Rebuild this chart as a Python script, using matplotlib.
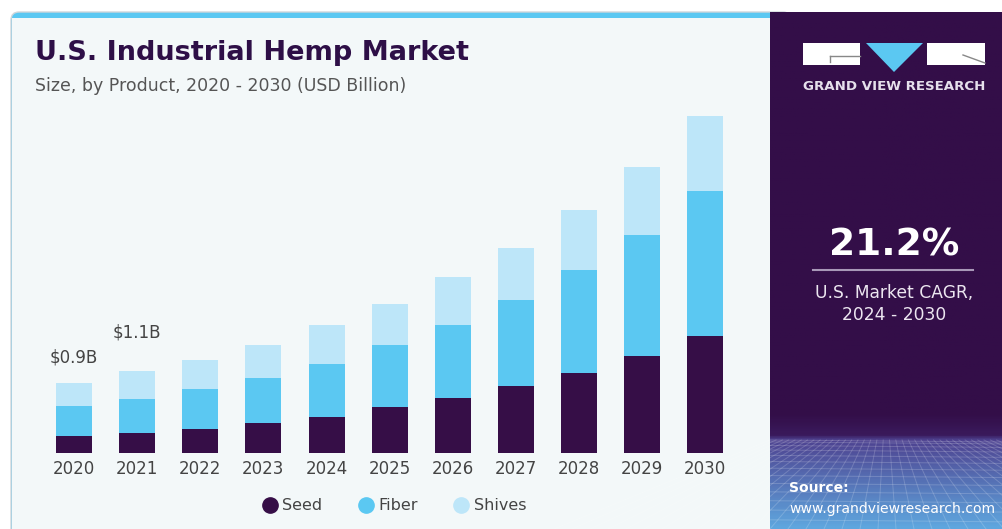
import numpy as np
import matplotlib.pyplot as plt
from matplotlib.patches import Rectangle, FancyBboxPatch, Polygon
from matplotlib.lines import Line2D
from matplotlib.colors import LinearSegmentedColormap

years = ['2020', '2021', '2022', '2023', '2024', '2025', '2026', '2027', '2028', '2029', '2030']
seed = [0.22, 0.26, 0.32, 0.39, 0.47, 0.60, 0.72, 0.87, 1.04, 1.27, 1.53]
fiber = [0.40, 0.45, 0.52, 0.59, 0.69, 0.81, 0.95, 1.12, 1.34, 1.57, 1.88]
shives = [0.30, 0.36, 0.37, 0.43, 0.51, 0.53, 0.62, 0.68, 0.78, 0.88, 0.97]
labels = {0: '$0.9B', 1: '$1.1B'}

c_seed = '#360e47'
c_fiber = '#5bc8f2'
c_shives = '#bde6f9'
c_dark = '#330e48'

fig = plt.figure(figsize=(10.03, 5.29), dpi=100)
fig.patch.set_facecolor('white')

# background / decoration layer in pixel coords
bg = fig.add_axes([0, 0, 1, 1], zorder=0)
bg.set_xlim(0, 1003)
bg.set_ylim(529, 0)
bg.axis('off')

bg.add_patch(FancyBboxPatch((11, 12), 780, 540, boxstyle='round,pad=0,rounding_size=8',
                            fc='#5bc8f2', ec='#d0d6da', lw=1))
bg.add_patch(Rectangle((12, 18), 770, 520, fc='#f3f8f9', ec='none'))

# right panel with gradient at the bottom
grad = np.linspace(0, 1, 300)[:, None]
cmap = LinearSegmentedColormap.from_list('p', [(0, c_dark), (0.78, c_dark), (0.82, '#3a1a5c'),
                                                (0.83, '#4e4290'), (1, '#5fa6de')])
bg.imshow(grad, extent=[770, 1003, 529, 12], cmap=cmap, aspect='auto', zorder=1)
for k in range(14):
    yy = 440 + 90 * (k / 13) ** 1.5
    bg.plot([770, 1003], [yy, yy + 2], color='white', alpha=0.18, lw=0.7, zorder=2)
for k in range(-12, 26):
    x0 = 770 + k * 18
    bg.plot([886 + (x0 - 886) * 0.35, x0], [440, 529], color='white', alpha=0.18, lw=0.7, zorder=2)

# logo
bg.add_patch(Rectangle((803, 43), 57, 22, fc='white', ec='none', zorder=3))
bg.plot([830, 860], [56, 56], color='#888888', lw=1, zorder=4)
bg.plot([830, 830], [56, 62], color='#888888', lw=1, zorder=4)
bg.add_patch(Polygon([[866, 43], [923, 43], [894, 72]], fc=c_fiber, ec='none', zorder=3))
bg.add_patch(Rectangle((927, 43), 58, 22, fc='white', ec='none', zorder=3))
bg.plot([963, 985], [55, 63], color='#888888', lw=1, zorder=4)
bg.text(894, 87, 'GRAND VIEW RESEARCH', color='#e6e0ec', fontsize=9.6, fontweight='bold',
        ha='center', va='center', zorder=4)

bg.text(894, 245, '21.2%', color='white', fontsize=27, fontweight='bold', ha='center', va='center', zorder=4)
bg.plot([813, 973], [270, 270], color='#a898b8', lw=1.5, zorder=4)
bg.text(894, 293, 'U.S. Market CAGR,', color='#ece6f0', fontsize=12.3, ha='center', va='center', zorder=4)
bg.text(894, 315, '2024 - 2030', color='#ece6f0', fontsize=12.3, ha='center', va='center', zorder=4)
bg.text(789, 488, 'Source:', color='white', fontsize=10, fontweight='bold', ha='left', va='center', zorder=4)
bg.text(789, 509, 'www.grandviewresearch.com', color='white', fontsize=10.1, ha='left', va='center', zorder=4)

bg.text(35, 53, 'U.S. Industrial Hemp Market', color='#2e0f47', fontsize=19.5, fontweight='bold',
        ha='left', va='center')
bg.text(35, 86, 'Size, by Product, 2020 - 2030 (USD Billion)', color='#555555', fontsize=12.5,
        ha='left', va='center')

# chart axes: baseline at 453 px, 0.013 B per px
ax = fig.add_axes([30 / 1003, 75.7 / 529, 720 / 1003, 353.3 / 529], zorder=5)
ax.patch.set_alpha(0)
x = np.arange(len(years))
w = 0.57
b1 = np.array(seed)
b2 = b1 + np.array(fiber)
ax.bar(x, seed, w, color=c_seed)
ax.bar(x, fiber, w, bottom=b1, color=c_fiber)
ax.bar(x, shives, w, bottom=b2, color=c_shives)
totals = b2 + np.array(shives)
offs = {0: 18, 1: 28}
for i, t in labels.items():
    ax.annotate(t, (x[i], totals[i]), xytext=(0, offs[i]), textcoords='offset points',
                ha='center', va='center', fontsize=12, color='#444444')

ax.set_xlim(-0.697, 10.708)
ax.set_ylim(0, 353.3 * 0.013)
ax.set_xticks(x)
ax.set_xticklabels(years, fontsize=12, color='#444444')
ax.tick_params(axis='x', length=0, pad=5)
ax.set_yticks([])
for s in ax.spines.values():
    s.set_visible(False)

handles = [Line2D([], [], marker='o', ls='none', ms=11, color=c) for c in (c_seed, c_fiber, c_shives)]
fig.legend(handles, ['Seed', 'Fiber', 'Shives'], loc='center', bbox_to_anchor=(394 / 1003, 23 / 529),
           ncol=3, frameon=False, fontsize=11.5, handletextpad=0.3, columnspacing=2.2,
           labelcolor='#444444', handlelength=1)

fig.savefig('out.png', dpi=100)
